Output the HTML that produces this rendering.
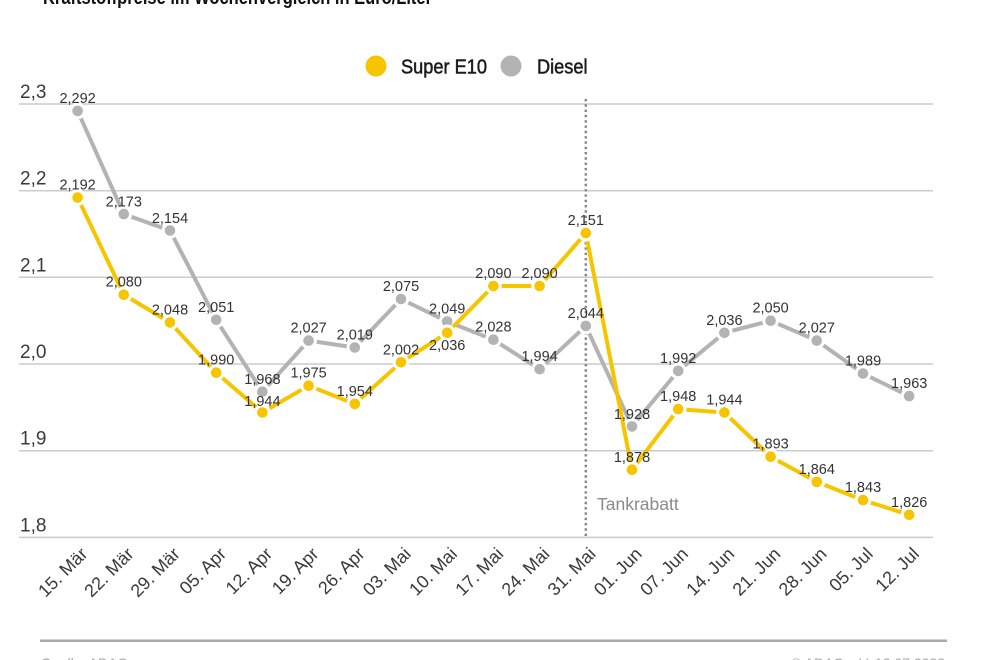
<!DOCTYPE html>
<html>
<head>
<meta charset="utf-8">
<style>
  html, body { margin: 0; padding: 0; background: #ffffff; }
  svg { display: block; }
  text { font-family: "Liberation Sans", "DejaVu Sans", sans-serif; }
</style>
</head>
<body>
<svg width="990" height="660" viewBox="0 0 990 660" xmlns="http://www.w3.org/2000/svg">
  <rect width="990" height="660" fill="#ffffff"/>

  <!-- cut-off title -->
  <text x="43" y="4" font-size="20" font-weight="bold" fill="#111" textLength="389" lengthAdjust="spacingAndGlyphs">Kraftstoffpreise im Wochenvergleich in Euro/Liter</text>

  <!-- legend -->
  <circle cx="376" cy="66" r="10.5" fill="#F6C500"/>
  <text x="401" y="73.5" font-size="20" fill="#1a1a1a" stroke="#1a1a1a" stroke-width="0.5" textLength="86" lengthAdjust="spacingAndGlyphs">Super E10</text>
  <circle cx="511" cy="66" r="10.5" fill="#B3B3B3"/>
  <text x="537" y="73.5" font-size="20" fill="#1a1a1a" stroke="#1a1a1a" stroke-width="0.5" textLength="50.5" lengthAdjust="spacingAndGlyphs">Diesel</text>

  <!-- gridlines -->
  <g stroke="#cccccc" stroke-width="1.5">
    <line x1="19" y1="104" x2="933" y2="104"/>
    <line x1="19" y1="190.7" x2="933" y2="190.7"/>
    <line x1="19" y1="277.3" x2="933" y2="277.3"/>
    <line x1="19" y1="364" x2="933" y2="364"/>
    <line x1="19" y1="450.7" x2="933" y2="450.7"/>
    <line x1="19" y1="537.4" x2="933" y2="537.4"/>
  </g>

  <!-- y labels -->
  <g font-size="19" fill="#3a3a3a">
    <text x="20" y="98">2,3</text>
    <text x="20" y="184.7">2,2</text>
    <text x="20" y="271.3">2,1</text>
    <text x="20" y="358">2,0</text>
    <text x="20" y="444.7">1,9</text>
    <text x="20" y="531.4">1,8</text>
  </g>

  <!-- Tankrabatt dotted line -->
  <line x1="585.8" y1="99" x2="585.8" y2="537" stroke="#888888" stroke-width="2.5" stroke-dasharray="2.4,2.9"/>
  <text x="597" y="510" font-size="17.5" fill="#8a8a8a">Tankrabatt</text>

  <!-- Diesel series -->
  <polyline fill="none" stroke="#B3B3B3" stroke-width="4" stroke-linejoin="round"
    points="77.6,110.9 123.8,214.1 170,230.5 216.2,319.8 262.4,391.7 308.6,340.6 354.8,347.5 401,299 447.2,321.5 493.4,339.7 539.6,369.2 585.8,325.9 632,426.4 678.2,370.9 724.4,332.8 770.6,320.7 816.8,340.6 863,373.5 909.2,396.1"/>
  <g fill="#B3B3B3" stroke="#ffffff" stroke-width="3">
    <circle cx="77.6" cy="110.9" r="6.8"/>
    <circle cx="123.8" cy="214.1" r="6.8"/>
    <circle cx="170" cy="230.5" r="6.8"/>
    <circle cx="216.2" cy="319.8" r="6.8"/>
    <circle cx="262.4" cy="391.7" r="6.8"/>
    <circle cx="308.6" cy="340.6" r="6.8"/>
    <circle cx="354.8" cy="347.5" r="6.8"/>
    <circle cx="401" cy="299" r="6.8"/>
    <circle cx="447.2" cy="321.5" r="6.8"/>
    <circle cx="493.4" cy="339.7" r="6.8"/>
    <circle cx="539.6" cy="369.2" r="6.8"/>
    <circle cx="585.8" cy="325.9" r="6.8"/>
    <circle cx="632" cy="426.4" r="6.8"/>
    <circle cx="678.2" cy="370.9" r="6.8"/>
    <circle cx="724.4" cy="332.8" r="6.8"/>
    <circle cx="770.6" cy="320.7" r="6.8"/>
    <circle cx="816.8" cy="340.6" r="6.8"/>
    <circle cx="863" cy="373.5" r="6.8"/>
    <circle cx="909.2" cy="396.1" r="6.8"/>
  </g>

  <!-- Super E10 series -->
  <polyline fill="none" stroke="#F6C500" stroke-width="4" stroke-linejoin="round"
    points="77.6,197.6 123.8,294.7 170,322.4 216.2,372.7 262.4,412.5 308.6,385.7 354.8,403.9 401,362.3 447.2,332.8 493.4,286 539.6,286 585.8,233.1 632,469.7 678.2,409.1 724.4,412.5 770.6,456.7 816.8,481.9 863,500.1 909.2,514.8"/>
  <g fill="#F6C500" stroke="#ffffff" stroke-width="3">
    <circle cx="77.6" cy="197.6" r="6.8"/>
    <circle cx="123.8" cy="294.7" r="6.8"/>
    <circle cx="170" cy="322.4" r="6.8"/>
    <circle cx="216.2" cy="372.7" r="6.8"/>
    <circle cx="262.4" cy="412.5" r="6.8"/>
    <circle cx="308.6" cy="385.7" r="6.8"/>
    <circle cx="354.8" cy="403.9" r="6.8"/>
    <circle cx="401" cy="362.3" r="6.8"/>
    <circle cx="447.2" cy="332.8" r="6.8"/>
    <circle cx="493.4" cy="286" r="6.8"/>
    <circle cx="539.6" cy="286" r="6.8"/>
    <circle cx="585.8" cy="233.1" r="6.8"/>
    <circle cx="632" cy="469.7" r="6.8"/>
    <circle cx="678.2" cy="409.1" r="6.8"/>
    <circle cx="724.4" cy="412.5" r="6.8"/>
    <circle cx="770.6" cy="456.7" r="6.8"/>
    <circle cx="816.8" cy="481.9" r="6.8"/>
    <circle cx="863" cy="500.1" r="6.8"/>
    <circle cx="909.2" cy="514.8" r="6.8"/>
  </g>

  <!-- data labels -->
  <g font-size="14.5" fill="#333333" text-anchor="middle">
    <!-- Diesel -->
    <text x="77.6" y="102.9">2,292</text>
    <text x="123.8" y="206.6">2,173</text>
    <text x="170" y="223">2,154</text>
    <text x="216.2" y="311.8">2,051</text>
    <text x="262.4" y="384.2">1,968</text>
    <text x="308.6" y="332.6">2,027</text>
    <text x="354.8" y="339.5">2,019</text>
    <text x="401" y="291">2,075</text>
    <text x="447.2" y="313.5">2,049</text>
    <text x="493.4" y="331.7">2,028</text>
    <text x="539.6" y="361.2">1,994</text>
    <text x="585.8" y="317.9">2,044</text>
    <text x="632" y="419">1,928</text>
    <text x="678.2" y="362.9">1,992</text>
    <text x="724.4" y="324.8">2,036</text>
    <text x="770.6" y="312.7">2,050</text>
    <text x="816.8" y="332.6">2,027</text>
    <text x="863" y="365.5">1,989</text>
    <text x="909.2" y="388.1">1,963</text>
    <!-- Super E10 -->
    <text x="77.6" y="189.6">2,192</text>
    <text x="123.8" y="286.7">2,080</text>
    <text x="170" y="314.4">2,048</text>
    <text x="216.2" y="364.7">1,990</text>
    <text x="262.4" y="406">1,944</text>
    <text x="308.6" y="377.7">1,975</text>
    <text x="354.8" y="395.9">1,954</text>
    <text x="401" y="354.3">2,002</text>
    <text x="447.2" y="349.8">2,036</text>
    <text x="493.4" y="278">2,090</text>
    <text x="539.6" y="278">2,090</text>
    <text x="585.8" y="225.1">2,151</text>
    <text x="632" y="462.2">1,878</text>
    <text x="678.2" y="401.1">1,948</text>
    <text x="724.4" y="404.5">1,944</text>
    <text x="770.6" y="448.7">1,893</text>
    <text x="816.8" y="473.9">1,864</text>
    <text x="863" y="492.1">1,843</text>
    <text x="909.2" y="506.8">1,826</text>
  </g>

  <!-- x labels -->
  <g font-size="18" fill="#3a3a3a" text-anchor="end">
    <text transform="translate(88.6,555) rotate(-45)">15. Mär</text>
    <text transform="translate(134.8,555) rotate(-45)">22. Mär</text>
    <text transform="translate(181,555) rotate(-45)">29. Mär</text>
    <text transform="translate(227.2,555) rotate(-45)">05. Apr</text>
    <text transform="translate(273.4,555) rotate(-45)">12. Apr</text>
    <text transform="translate(319.6,555) rotate(-45)">19. Apr</text>
    <text transform="translate(365.8,555) rotate(-45)">26. Apr</text>
    <text transform="translate(412,555) rotate(-45)">03. Mai</text>
    <text transform="translate(458.2,555) rotate(-45)">10. Mai</text>
    <text transform="translate(504.4,555) rotate(-45)">17. Mai</text>
    <text transform="translate(550.6,555) rotate(-45)">24. Mai</text>
    <text transform="translate(596.8,555) rotate(-45)">31. Mai</text>
    <text transform="translate(643,555) rotate(-45)">01. Jun</text>
    <text transform="translate(689.2,555) rotate(-45)">07. Jun</text>
    <text transform="translate(735.4,555) rotate(-45)">14. Jun</text>
    <text transform="translate(781.6,555) rotate(-45)">21. Jun</text>
    <text transform="translate(827.8,555) rotate(-45)">28. Jun</text>
    <text transform="translate(874,555) rotate(-45)">05. Jul</text>
    <text transform="translate(920.2,555) rotate(-45)">12. Jul</text>
  </g>

  <!-- bottom rule -->
  <line x1="40" y1="640.7" x2="947" y2="640.7" stroke="#aaaaaa" stroke-width="2.5"/>

  <!-- cut-off footer -->
  <text x="41" y="668" font-size="14" fill="#a5a5a5">Quelle: ADAC</text>
  <text x="945" y="668" font-size="14" fill="#a5a5a5" text-anchor="end">© ADAC e.V. 12.07.2022</text>
</svg>
</body>
</html>
